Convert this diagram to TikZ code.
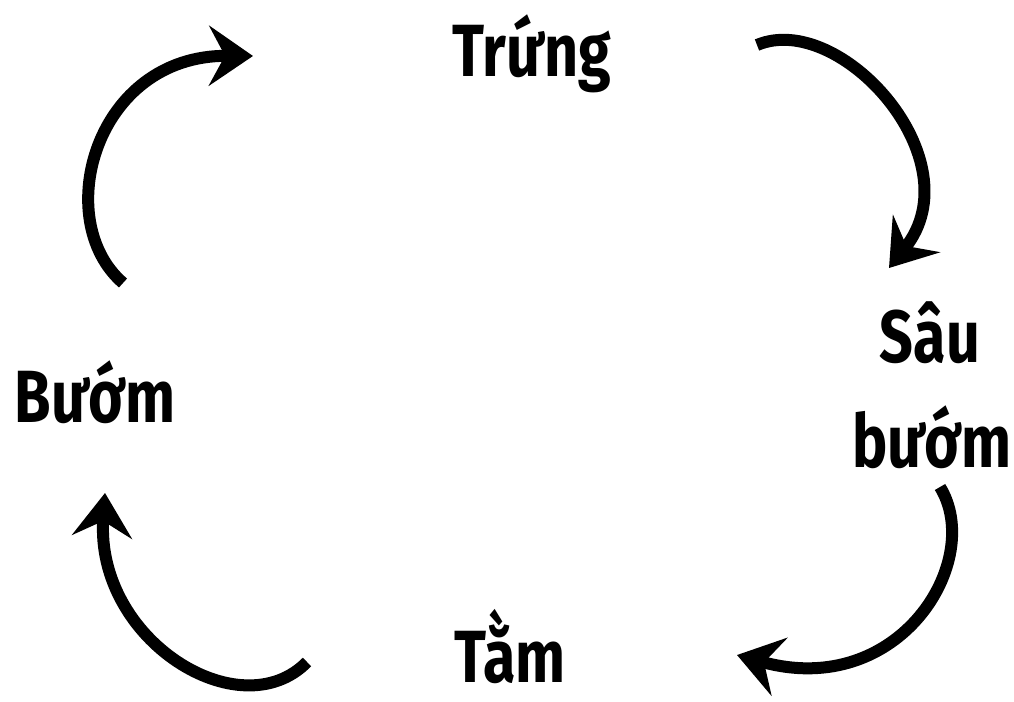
\documentclass[tikz,border=0pt]{standalone}
\usepackage{fontspec}
\newfontfamily\lblfont{Fira Sans}[FakeStretch=0.8]
\usetikzlibrary{arrows.meta}
\tikzset{
  lbl/.style={anchor=base, inner sep=0pt, font=\lblfont\bfseries\fontsize{74}{105}\selectfont, align=center},
  cyc/.style={line width=12pt, line cap=butt, -{Stealth[length=44pt, width=60pt, inset=16pt]}}
}
\begin{document}
\begin{tikzpicture}[x=1pt, y=-1pt]
\useasboundingbox (0,0) rectangle (1014,701);
\node[lbl] (trung) at (532,77) {Trứng};
\node[lbl] (sau) at (930,362) {Sâu};
\node[lbl] (buom2) at (932,467) {bướm};
\node[lbl] (tam) at (510,682) {Tằm};
\node[lbl] (buom) at (95,422) {Bướm};
\coordinate (a1s) at (123,283); \coordinate (a1e) at (253,56);
\coordinate (a2s) at (757,45);  \coordinate (a2e) at (889,268);
\coordinate (a3s) at (940,487); \coordinate (a3e) at (737,655);
\coordinate (a4s) at (307,662); \coordinate (a4e) at (105,493);
\draw[cyc] (a1s) .. controls (50,220) and (95,55) .. (a1e);
\draw[cyc] (a2s) .. controls (840,10) and (975,160) .. (a2e);
\draw[cyc] (a3s) .. controls (985,560) and (900,700) .. (a3e);
\draw[cyc] (a4s) .. controls (240,730) and (95,640) .. (a4e);
\end{tikzpicture}
\end{document}
